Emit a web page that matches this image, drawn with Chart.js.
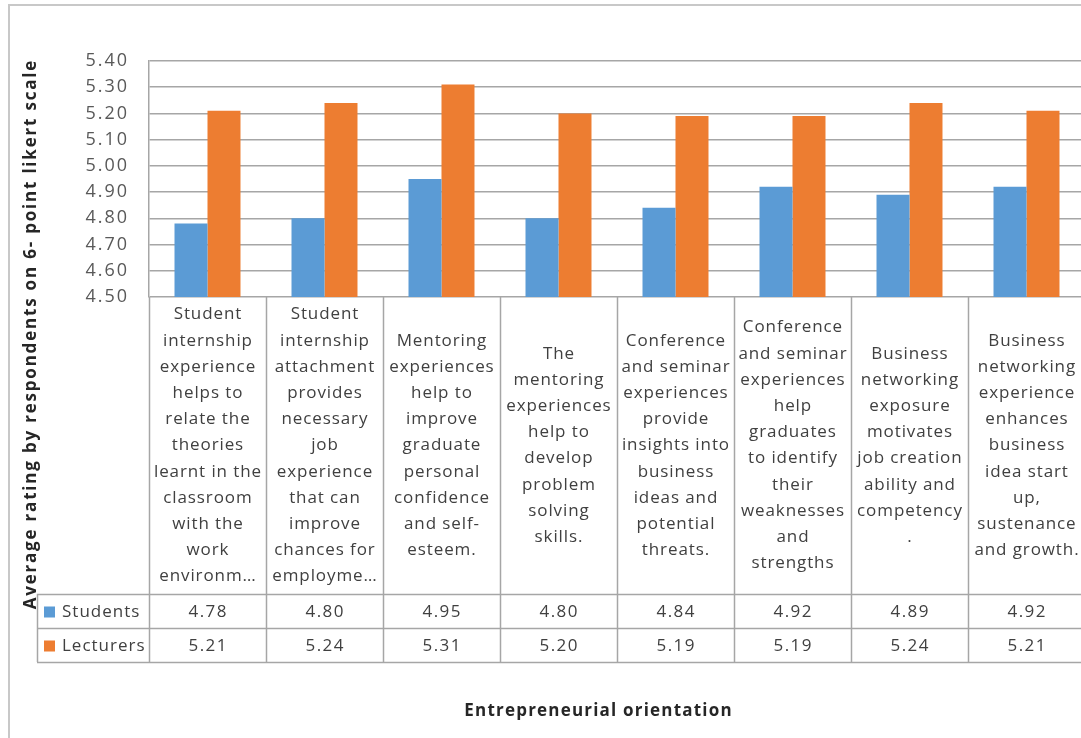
<!DOCTYPE html>
<html>
<head>
<meta charset="utf-8">
<title>Entrepreneurial orientation</title>
<script src="https://cdn.jsdelivr.net/npm/chart.js@4.4.1/dist/chart.umd.min.js"></script>
<style>
  html, body { margin: 0; padding: 0; background: #fff; overflow: hidden; }
  #wrap { position: absolute; left: 0; top: 0; width: 1100px; height: 738px; }
</style>
</head>
<body>
<div id="wrap"><canvas id="chart" width="1100" height="738"></canvas></div>
<script>
// category text, already broken into the lines shown in the table cells
const categories = [
  ["Student", "internship", "experience", "helps to", "relate the", "theories", "learnt in the", "classroom", "with the", "work", "environm…"],
  ["Student", "internship", "attachment", "provides", "necessary", "job", "experience", "that can", "improve", "chances for", "employme…"],
  ["Mentoring", "experiences", "help to", "improve", "graduate", "personal", "confidence", "and self-", "esteem."],
  ["The", "mentoring", "experiences", "help to", "develop", "problem", "solving", "skills."],
  ["Conference", "and seminar", "experiences", "provide", "insights into", "business", "ideas and", "potential", "threats."],
  ["Conference", "and seminar", "experiences", "help", "graduates", "to identify", "their", "weaknesses", "and", "strengths"],
  ["Business", "networking", "exposure", "motivates", "job creation", "ability and", "competency", "."],
  ["Business", "networking", "experience", "enhances", "business", "idea start", "up,", "sustenance", "and growth."]
];
const seriesNames = ["Students", "Lecturers"];
const students = [4.78, 4.80, 4.95, 4.80, 4.84, 4.92, 4.89, 4.92];
const lecturers = [5.21, 5.24, 5.31, 5.20, 5.19, 5.19, 5.24, 5.21];
const yMin = 4.5, yMax = 5.4, yStep = 0.1;

const yTitle = "Average rating by respondents on 6- point likert scale";
const xTitle = "Entrepreneurial orientation";

const BLUE = "#5B9BD5";
const ORANGE = "#ED7D31";
const LINE = "#a6a6a6";
const FONT = "'Open Sans', sans-serif";

// centred text with extra tracking; the trailing gap is taken back off
function spacedText(ctx, txt, x, y, spacing) {
  ctx.letterSpacing = spacing + "px";
  ctx.fillText(txt, x + (ctx.textAlign === "center" ? spacing / 2 : 0), y);
  ctx.letterSpacing = "0px";
}

// wider tracking for the value axis labels only
const trackingPlugin = {
  id: 'tracking',
  beforeDraw(chart) { chart.ctx.letterSpacing = "2px"; },
  beforeDatasetsDraw(chart) { chart.ctx.letterSpacing = "0px"; }
};

// draws the frame, the data table under the plot and both axis titles
const tablePlugin = {
  id: 'dataTable',
  afterDraw(chart) {
    const { ctx, chartArea } = chart;
    const x = chart.scales.x;
    const step = x.getPixelForValue(1) - x.getPixelForValue(0);
    const left = chartArea.left;
    const top = chartArea.bottom;
    const labelBottom = top + 297;
    const rowH = 34;
    const tableBottom = labelBottom + rowH * 2;
    const legendLeft = 37;

    ctx.save();

    // outer chart frame
    ctx.strokeStyle = "#c8c8c8";
    ctx.lineWidth = 2;
    ctx.beginPath();
    ctx.moveTo(9, chart.height);
    ctx.lineTo(9, 5);
    ctx.lineTo(chart.width, 5);
    ctx.stroke();

    // table grid
    ctx.strokeStyle = LINE;
    ctx.lineWidth = 1.5;
    ctx.beginPath();
    [labelBottom, labelBottom + rowH, tableBottom].forEach(yy => {
      ctx.moveTo(legendLeft, yy + 0.5);
      ctx.lineTo(chart.width, yy + 0.5);
    });
    for (let i = 0; i <= categories.length; i++) {
      const xx = Math.round(left + step * i) + 0.5;
      ctx.moveTo(xx, top);
      ctx.lineTo(xx, tableBottom);
    }
    ctx.moveTo(legendLeft + 0.5, labelBottom);
    ctx.lineTo(legendLeft + 0.5, tableBottom);
    ctx.stroke();

    // category labels
    ctx.fillStyle = "#404040";
    ctx.font = "17px " + FONT;
    ctx.textAlign = "center";
    ctx.textBaseline = "middle";
    const lineH = 26.2;
    const midY = (top + labelBottom) / 2;
    categories.forEach((lines, i) => {
      const cx = x.getPixelForValue(i);
      lines.forEach((txt, j) => {
        spacedText(ctx, txt, cx, midY + (j - (lines.length - 1) / 2) * lineH, 0.9);
      });
    });

    // value rows
    [students, lecturers].forEach((vals, r) => {
      const cy = labelBottom + rowH * r + rowH / 2 + 1;
      vals.forEach((v, i) => {
        spacedText(ctx, v.toFixed(2), x.getPixelForValue(i), cy, 1.5);
      });
    });

    // legend keys in the first column
    ctx.textAlign = "left";
    seriesNames.forEach((name, r) => {
      const cy = labelBottom + rowH * r + rowH / 2 + 1;
      ctx.fillStyle = r === 0 ? BLUE : ORANGE;
      ctx.fillRect(44, cy - 5.5, 11, 11);
      ctx.fillStyle = "#404040";
      spacedText(ctx, name, 62, cy, 1);
    });

    // axis titles
    ctx.fillStyle = "#262626";
    ctx.font = "bold 17px " + FONT;
    ctx.textAlign = "center";
    spacedText(ctx, xTitle, 598, 711, 1.2);
    ctx.translate(31, 335);
    ctx.rotate(-Math.PI / 2);
    spacedText(ctx, yTitle, 0, 0, 1.8);

    ctx.restore();
  }
};

new Chart(document.getElementById('chart'), {
  type: 'bar',
  data: {
    labels: categories.map(c => c.join(' ')),
    datasets: [
      { label: seriesNames[0], data: students, backgroundColor: BLUE },
      { label: seriesNames[1], data: lecturers, backgroundColor: ORANGE }
    ]
  },
  options: {
    responsive: false,
    animation: false,
    layout: { padding: { left: 0, top: 61, right: 15, bottom: 441 } },
    datasets: { bar: { categoryPercentage: 0.564, barPercentage: 1 } },
    plugins: {
      legend: { display: false },
      tooltip: { enabled: false }
    },
    scales: {
      x: {
        grid: { display: false },
        border: { display: false },
        ticks: { display: false },
        afterFit(scale) { scale.height = 0; }
      },
      y: {
        min: yMin,
        max: yMax,
        ticks: {
          stepSize: yStep,
          padding: 20,
          color: "#595959",
          font: { family: FONT, size: 18 },
          callback: v => v.toFixed(2)
        },
        grid: { color: LINE, lineWidth: 1.5, drawTicks: false },
        border: { color: LINE, width: 1.5 },
        afterFit(scale) { scale.width = 149; }
      }
    }
  },
  plugins: [trackingPlugin, tablePlugin]
});
</script>
</body>
</html>
